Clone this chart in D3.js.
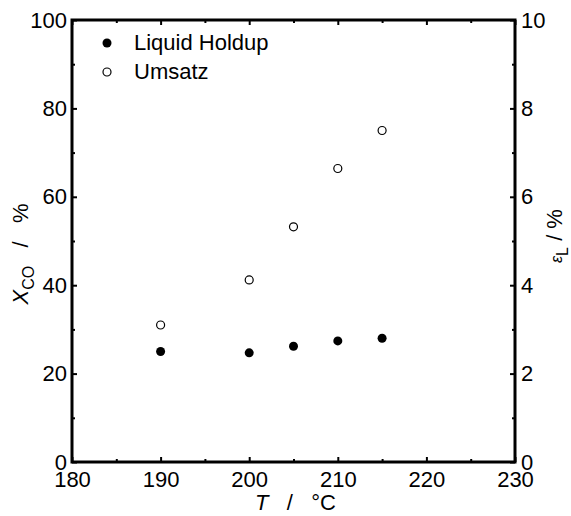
<!DOCTYPE html>
<html>
<head>
<meta charset="utf-8">
<script src="https://cdn.jsdelivr.net/npm/d3@7"></script>
<style>
  body { margin: 0; background: #fff; }
  svg { font-family: "Liberation Sans", Arial, sans-serif; }
</style>
</head>
<body>
<div id="chart"></div>
<script>
// temperatures in °C
const temps = [190, 200, 205, 210, 215];
// conversion X_CO in % (left axis)
const umsatz = [31, 41.2, 53.2, 66.4, 75];
// liquid holdup eps_L in % (right axis)
const holdup = [2.5, 2.47, 2.62, 2.74, 2.8];

const xTicks = [180, 190, 200, 210, 220, 230];
const yLeftTicks = [0, 20, 40, 60, 80, 100];
const yRightTicks = [0, 2, 4, 6, 8, 10];

const width = 571, height = 516;
const margin = { top: 20, right: 56, bottom: 54, left: 72 };
const fs = "22px";

const svg = d3.select("#chart").append("svg")
  .attr("width", width)
  .attr("height", height);

const x = d3.scaleLinear().domain([180, 230]).range([margin.left, width - margin.right]);
const yL = d3.scaleLinear().domain([0, 100]).range([height - margin.bottom, margin.top]);
const yR = d3.scaleLinear().domain([0, 10]).range([height - margin.bottom, margin.top]);

const bottom = height - margin.bottom;
const right = width - margin.right;

function styleAxis(g) {
  g.select(".domain").remove();
  g.selectAll(".tick line").attr("stroke", "#000").attr("stroke-width", 2);
  g.selectAll("text").attr("fill", "#000").style("font-size", fs);
}

// minor ticks
const minorX = d3.range(185, 230, 10);
const minorL = d3.range(10, 100, 20);
svg.append("g").attr("transform", `translate(0,${bottom})`)
  .call(d3.axisBottom(x).tickValues(minorX).tickSize(-3).tickFormat(""))
  .call(styleAxis);
svg.append("g").attr("transform", `translate(0,${margin.top})`)
  .call(d3.axisTop(x).tickValues(minorX).tickSize(-3).tickFormat(""))
  .call(styleAxis);
svg.append("g").attr("transform", `translate(${margin.left},0)`)
  .call(d3.axisLeft(yL).tickValues(minorL).tickSize(-3).tickFormat(""))
  .call(styleAxis);
svg.append("g").attr("transform", `translate(${right},0)`)
  .call(d3.axisRight(yL).tickValues(minorL).tickSize(-3).tickFormat(""))
  .call(styleAxis);

// major ticks
svg.append("g").attr("transform", `translate(0,${bottom})`)
  .call(d3.axisBottom(x).tickValues(xTicks).tickSize(-5).tickPadding(9))
  .call(styleAxis);
svg.append("g").attr("transform", `translate(0,${margin.top})`)
  .call(d3.axisTop(x).tickValues(xTicks).tickSize(-5).tickFormat(""))
  .call(styleAxis);
svg.append("g").attr("transform", `translate(${margin.left},0)`)
  .call(d3.axisLeft(yL).tickValues(yLeftTicks).tickSize(-5).tickPadding(5))
  .call(styleAxis);
svg.append("g").attr("transform", `translate(${right},0)`)
  .call(d3.axisRight(yR).tickValues(yRightTicks).tickSize(-5).tickPadding(6))
  .call(styleAxis);

// frame
svg.append("rect")
  .attr("x", margin.left).attr("y", margin.top)
  .attr("width", right - margin.left).attr("height", bottom - margin.top)
  .attr("fill", "none").attr("stroke", "#000").attr("stroke-width", 3);

// data
svg.selectAll(".umsatz").data(temps).enter().append("circle")
  .attr("class", "umsatz")
  .attr("cx", (d) => x(d))
  .attr("cy", (d, i) => yL(umsatz[i]))
  .attr("r", 4)
  .attr("fill", "#fff").attr("stroke", "#000").attr("stroke-width", 1.2);

svg.selectAll(".holdup").data(temps).enter().append("circle")
  .attr("class", "holdup")
  .attr("cx", (d) => x(d))
  .attr("cy", (d, i) => yR(holdup[i]))
  .attr("r", 4.5)
  .attr("fill", "#000");

// legend
const leg = svg.append("g").style("font-size", fs);
leg.append("circle").attr("cx", 107).attr("cy", 43).attr("r", 4.5).attr("fill", "#000");
leg.append("text").attr("x", 134).attr("y", 50).text("Liquid Holdup");
leg.append("circle").attr("cx", 107).attr("cy", 72).attr("r", 4).attr("fill", "#fff")
  .attr("stroke", "#000").attr("stroke-width", 1.2);
leg.append("text").attr("x", 134).attr("y", 79).text("Umsatz");

// x title
const xt = svg.append("text")
  .attr("x", (margin.left + right) / 2 + 2).attr("y", 510)
  .attr("text-anchor", "middle").style("font-size", fs);
xt.append("tspan").style("font-style", "italic").text("T");
xt.append("tspan").text("\u00a0\u00a0\u00a0/\u00a0\u00a0\u00a0°C");

// left title
const yt = svg.append("text")
  .attr("transform", "translate(28,254) rotate(-90)")
  .attr("text-anchor", "middle").style("font-size", fs);
yt.append("tspan").style("font-style", "italic").text("X");
yt.append("tspan").attr("dy", 6).style("font-size", "16px").text("CO");
yt.append("tspan").attr("dy", -6).text("\u00a0\u00a0\u00a0/\u00a0\u00a0\u00a0%");

// right title
const rt = svg.append("text")
  .attr("transform", "translate(562,236) rotate(-90)")
  .attr("text-anchor", "middle").style("font-size", fs);
rt.append("tspan").style("font-style", "italic").style("font-size", "16px").text("ε");
rt.append("tspan").attr("dy", 6).style("font-size", "16px").text("L");
rt.append("tspan").attr("dy", -6).text("\u00a0/\u00a0%");
</script>
</body>
</html>
